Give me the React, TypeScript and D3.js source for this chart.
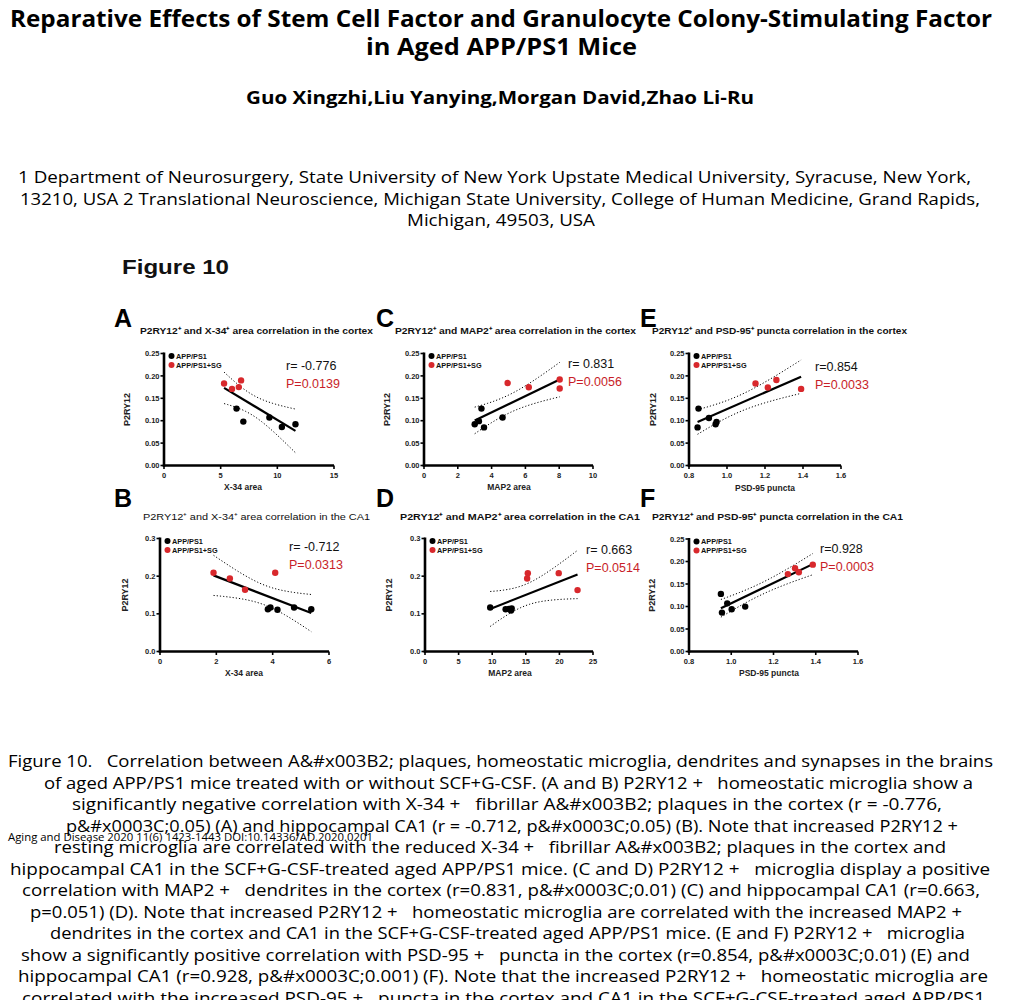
import React from 'react';
import * as d3 from 'd3';

// ---------- text content ----------
const titleLines = [
  'Reparative Effects of Stem Cell Factor and Granulocyte Colony-Stimulating Factor',
  'in Aged APP/PS1 Mice',
];
const authorLine = 'Guo Xingzhi,Liu Yanying,Morgan David,Zhao Li-Ru';
const affiliationLines = [
  '1 Department of Neurosurgery, State University of New York Upstate Medical University, Syracuse, New York,',
  '13210, USA 2 Translational Neuroscience, Michigan State University, College of Human Medicine, Grand Rapids,',
  'Michigan, 49503, USA',
];
const figureLabel = 'Figure 10';
const captionLines = [
  'Figure 10.   Correlation between A&#x003B2; plaques, homeostatic microglia, dendrites and synapses in the brains',
  'of aged APP/PS1 mice treated with or without SCF+G-CSF. (A and B) P2RY12 +   homeostatic microglia show a',
  'significantly negative correlation with X-34 +   fibrillar A&#x003B2; plaques in the cortex (r = -0.776,',
  'p&#x0003C;0.05) (A) and hippocampal CA1 (r = -0.712, p&#x0003C;0.05) (B). Note that increased P2RY12 +',
  'resting microglia are correlated with the reduced X-34 +   fibrillar A&#x003B2; plaques in the cortex and',
  'hippocampal CA1 in the SCF+G-CSF-treated aged APP/PS1 mice. (C and D) P2RY12 +   microglia display a positive',
  'correlation with MAP2 +   dendrites in the cortex (r=0.831, p&#x0003C;0.01) (C) and hippocampal CA1 (r=0.663,',
  'p=0.051) (D). Note that increased P2RY12 +   homeostatic microglia are correlated with the increased MAP2 +',
  'dendrites in the cortex and CA1 in the SCF+G-CSF-treated aged APP/PS1 mice. (E and F) P2RY12 +   microglia',
  'show a significantly positive correlation with PSD-95 +   puncta in the cortex (r=0.854, p&#x0003C;0.01) (E) and',
  'hippocampal CA1 (r=0.928, p&#x0003C;0.001) (F). Note that the increased P2RY12 +   homeostatic microglia are',
  'correlated with the increased PSD-95 +   puncta in the cortex and CA1 in the SCF+G-CSF-treated aged APP/PS1',
];
const footerLine = 'Aging and Disease 2020 11(6) 1423-1443 DOI:10.14336/AD.2020.0201';

const panelLetters = ['A', 'C', 'E', 'B', 'D', 'F'];
const panelTitles = [
  'P2RY12\u207A and X-34\u207A area correlation in the cortex',
  'P2RY12\u207A and MAP2\u207A area correlation in the cortex',
  'P2RY12\u207A and PSD-95\u207A puncta correlation in the cortex',
  'P2RY12\u207A and X-34\u207A area correlation in the CA1',
  'P2RY12\u207A and MAP2\u207A area correlation in the CA1',
  'P2RY12\u207A and PSD-95\u207A puncta correlation in the CA1',
];
const xAxisTitles = ['X-34 area', 'MAP2 area', 'PSD-95 puncta', 'X-34 area', 'MAP2 area', 'PSD-95 puncta'];
const yAxisTitle = 'P2RY12';
const legendLabels = ['APP/PS1', 'APP/PS1+SG'];
const rLabels = ['r= -0.776', 'r= 0.831', 'r=0.854', 'r= -0.712', 'r= 0.663', 'r=0.928'];
const pLabels = ['P=0.0139', 'P=0.0056', 'P=0.0033', 'P=0.0313', 'P=0.0514', 'P=0.0003'];

// ---------- data: [x, P2RY12] ----------
const cortexX34Ctrl = [[6.4, 0.127], [7.0, 0.098], [9.3, 0.107], [10.4, 0.086], [11.6, 0.092]];
const cortexX34SG = [[5.3, 0.183], [6.0, 0.171], [6.6, 0.175], [6.8, 0.19]];
const cortexMap2Ctrl = [[3.0, 0.092], [3.25, 0.099], [3.4, 0.127], [3.55, 0.085], [4.65, 0.107]];
const cortexMap2SG = [[4.95, 0.184], [6.2, 0.1745], [8.03, 0.192], [8.03, 0.172]];
const cortexPsdCtrl = [[0.85, 0.127], [0.845, 0.085], [0.905, 0.106], [0.94, 0.092], [0.945, 0.097]];
const cortexPsdSG = [[1.15, 0.183], [1.215, 0.174], [1.26, 0.191], [1.39, 0.171]];
const ca1X34Ctrl = [[3.83, 0.112], [3.92, 0.117], [4.17, 0.111], [4.76, 0.117], [5.37, 0.112]];
const ca1X34SG = [[1.9, 0.209], [2.48, 0.194], [3.02, 0.164], [4.09, 0.209]];
const ca1Map2Ctrl = [[9.7, 0.117], [12.0, 0.112], [12.5, 0.113], [12.8, 0.109], [12.9, 0.114]];
const ca1Map2SG = [[15.2, 0.194], [15.3, 0.208], [19.9, 0.208], [22.7, 0.163]];
const ca1PsdCtrl = [[0.951, 0.128], [0.956, 0.0865], [0.981, 0.107], [1.002, 0.094], [1.066, 0.0998]];
const ca1PsdSG = [[1.268, 0.172], [1.302, 0.185], [1.32, 0.176], [1.386, 0.193]];

// ---------- axis ticks ----------
const yTicksCortex = [0, 0.05, 0.1, 0.15, 0.2, 0.25];
const yTicksCA1a = [0, 0.1, 0.2, 0.3];
const xTicksX34Cortex = [0, 5, 10, 15];
const xTicksMap2Cortex = [0, 2, 4, 6, 8, 10];
const xTicksPsd = [0.8, 1.0, 1.2, 1.4, 1.6];
const xTicksX34CA1 = [0, 2, 4, 6];
const xTicksMap2CA1 = [0, 5, 10, 15, 20, 25];

const T_CRIT_7DF = 2.3646; // 95% two-sided t critical value, n-2 = 7

// ---------- layout (positions only) ----------
const panels = [
  { ctrl: cortexX34Ctrl, sg: cortexX34SG, xd: [0, 15], yd: [0, 0.25], xt: xTicksX34Cortex, yt: yTicksCortex, xf: 'd', yf: '.2f',
    L: 164, R: 334, T: 353.5, B: 465.5, letter: [114, 327], title: [140, 373, 334], bold: true, yTitleX: 130, xTitleX: 243, xTitleY: 490, stat: [286, 370] },
  { ctrl: cortexMap2Ctrl, sg: cortexMap2SG, xd: [0, 10], yd: [0, 0.25], xt: xTicksMap2Cortex, yt: yTicksCortex, xf: 'd', yf: '.2f',
    L: 424, R: 593, T: 353.5, B: 465.5, letter: [376, 327], title: [395, 636, 334], bold: true, yTitleX: 390, xTitleX: 509, xTitleY: 490, stat: [568, 368] },
  { ctrl: cortexPsdCtrl, sg: cortexPsdSG, xd: [0.8, 1.6], yd: [0, 0.25], xt: xTicksPsd, yt: yTicksCortex, xf: '.1f', yf: '.2f',
    L: 689, R: 841, T: 353.5, B: 465.5, letter: [640, 327], title: [652, 907, 334], bold: true, yTitleX: 656, xTitleX: 765, xTitleY: 491, stat: [815, 371] },
  { ctrl: ca1X34Ctrl, sg: ca1X34SG, xd: [0, 6], yd: [0, 0.3], xt: xTicksX34CA1, yt: yTicksCA1a, xf: 'd', yf: '.1f',
    L: 160, R: 329, T: 538.5, B: 651.5, letter: [114, 507], title: [143, 370, 520], bold: false, yTitleX: 128, xTitleX: 244, xTitleY: 676, stat: [289, 551] },
  { ctrl: ca1Map2Ctrl, sg: ca1Map2SG, xd: [0, 25], yd: [0, 0.3], xt: xTicksMap2CA1, yt: yTicksCA1a, xf: 'd', yf: '.1f',
    L: 425, R: 593, T: 538.5, B: 651.5, letter: [376, 507], title: [400, 640, 520], bold: true, yTitleX: 392, xTitleX: 510, xTitleY: 676, stat: [586, 554] },
  { ctrl: ca1PsdCtrl, sg: ca1PsdSG, xd: [0.8, 1.6], yd: [0, 0.25], xt: xTicksPsd, yt: yTicksCortex, xf: '.1f', yf: '.2f',
    L: 689, R: 858, T: 539, B: 651.5, letter: [640, 507], title: [652, 903, 520], bold: true, yTitleX: 655, xTitleX: 769, xTitleY: 676, stat: [820, 553] },
];

const captionLayout = [
  [8, 993], [44, 973], [72, 942], [66, 958], [54, 946], [10, 990],
  [22, 980], [30, 962], [50, 965], [21, 970], [18, 988], [22, 985],
];

const ARIAL = '"Liberation Sans", Arial, sans-serif';
const SEGOE = '"Open Sans", "Noto Sans", sans-serif';
const RED_DOT = '#d8282c';
const RED_TXT = '#c81e28';
const PRE = { whiteSpace: 'pre' as const };

function regress(pts: number[][]) {
  const n = pts.length;
  const mx = d3.mean(pts, (p) => p[0])!;
  const my = d3.mean(pts, (p) => p[1])!;
  const sxx = d3.sum(pts, (p) => (p[0] - mx) ** 2);
  const sxy = d3.sum(pts, (p) => (p[0] - mx) * (p[1] - my));
  const syy = d3.sum(pts, (p) => (p[1] - my) ** 2);
  const slope = sxy / sxx;
  const icpt = my - slope * mx;
  const s = Math.sqrt((syy - (sxy * sxy) / sxx) / (n - 2));
  const half = (x: number) => T_CRIT_7DF * s * Math.sqrt(1 / n + (x - mx) ** 2 / sxx);
  return { slope, icpt, half, x0: d3.min(pts, (p) => p[0])!, x1: d3.max(pts, (p) => p[0])! };
}

function Panel({ p, i }: { p: any; i: number }) {
  const x = d3.scaleLinear().domain(p.xd).range([p.L, p.R]);
  const y = d3.scaleLinear().domain(p.yd).range([p.B, p.T]);
  const all = [...p.ctrl, ...p.sg];
  const fit = regress(all);
  const xs = d3.range(0, 41).map((k) => fit.x0 + ((fit.x1 - fit.x0) * k) / 40);
  const line = d3.line<number>().x((v) => x(v));
  const upper = line.y((v) => y(fit.icpt + fit.slope * v + fit.half(v)))(xs) || '';
  const lower = line.y((v) => y(fit.icpt + fit.slope * v - fit.half(v)))(xs) || '';
  const xfmt = d3.format(p.xf);
  const yfmt = d3.format(p.yf);
  const midY = (p.T + p.B) / 2;
  return (
    <g>
      <text x={p.letter[0]} y={p.letter[1]} fontFamily={ARIAL} fontWeight="bold" fontSize={25} fill="#000">
        {panelLetters[i]}
      </text>
      <text x={p.title[0]} y={p.title[2]} textLength={p.title[1] - p.title[0]} lengthAdjust="spacingAndGlyphs"
        fontFamily={ARIAL} fontWeight={p.bold ? 'bold' : 'normal'} fontSize={9.5} fill="#111">
        {panelTitles[i]}
      </text>
      {p.yt.map((t: number) => (
        <g key={'y' + t}>
          <line x1={p.L - 3.5} x2={p.L} y1={y(t)} y2={y(t)} stroke="#000" strokeWidth={1.6} />
          <text x={p.L - 4.5} y={y(t) + 2.6} textAnchor="end" fontFamily={ARIAL} fontWeight="bold" fontSize={7.5} fill="#222">
            {yfmt(t)}
          </text>
        </g>
      ))}
      {p.xt.map((t: number) => (
        <g key={'x' + t}>
          <line x1={x(t)} x2={x(t)} y1={p.B} y2={p.B + 3.5} stroke="#000" strokeWidth={1.6} />
          <text x={x(t)} y={p.B + 12} textAnchor="middle" fontFamily={ARIAL} fontWeight="bold" fontSize={7.5} fill="#222">
            {xfmt(t)}
          </text>
        </g>
      ))}
      <line x1={p.L} x2={p.L} y1={p.T - 1} y2={p.B + 1.2} stroke="#000" strokeWidth={2.6} />
      <line x1={p.L - 1.2} x2={p.R} y1={p.B} y2={p.B} stroke="#000" strokeWidth={2.6} />
      <text transform={`translate(${p.yTitleX},${midY}) rotate(-90)`} textAnchor="middle" fontFamily={ARIAL}
        fontWeight="bold" fontSize={9} fill="#222">
        {yAxisTitle}
      </text>
      <text x={p.xTitleX} y={p.xTitleY} textAnchor="middle" fontFamily={ARIAL} fontWeight="bold" fontSize={8.5} fill="#222">
        {xAxisTitles[i]}
      </text>
      <circle cx={p.L + 7.5} cy={p.T + 2.5} r={3} fill="#000" />
      <text x={p.L + 12} y={p.T + 5} fontFamily={ARIAL} fontWeight="bold" fontSize={7.3} fill="#111">{legendLabels[0]}</text>
      <circle cx={p.L + 7.5} cy={p.T + 11.5} r={3} fill={RED_DOT} />
      <text x={p.L + 12} y={p.T + 14} fontFamily={ARIAL} fontWeight="bold" fontSize={7.3} fill="#111">{legendLabels[1]}</text>
      <path d={upper} fill="none" stroke="#000" strokeWidth={1} strokeDasharray="1.2,2" />
      <path d={lower} fill="none" stroke="#000" strokeWidth={1} strokeDasharray="1.2,2" />
      <line x1={x(fit.x0)} x2={x(fit.x1)} y1={y(fit.icpt + fit.slope * fit.x0)} y2={y(fit.icpt + fit.slope * fit.x1)}
        stroke="#000" strokeWidth={2.2} />
      {p.ctrl.map((d: number[], k: number) => (
        <circle key={'c' + k} cx={x(d[0])} cy={y(d[1])} r={3.2} fill="#000" />
      ))}
      {p.sg.map((d: number[], k: number) => (
        <circle key={'s' + k} cx={x(d[0])} cy={y(d[1])} r={3.2} fill={RED_DOT} />
      ))}
      <text x={p.stat[0]} y={p.stat[1]} fontFamily={ARIAL} fontSize={12.5} fill="#111">{rLabels[i]}</text>
      <text x={p.stat[0]} y={p.stat[1] + 18} fontFamily={ARIAL} fontSize={12.5} fill={RED_TXT}>{pLabels[i]}</text>
    </g>
  );
}

export default function App() {
  return (
    <svg width={1024} height={1000} style={{ position: 'absolute', left: 0, top: 0, background: '#fff' }}>
      <rect width={1024} height={1000} fill="#fff" />
      <text x={10} y={27} textLength={982} lengthAdjust="spacingAndGlyphs" fontFamily={SEGOE} fontWeight="bold" fontSize={23} fill="#000">
        {titleLines[0]}
      </text>
      <text x={366} y={55} textLength={271} lengthAdjust="spacingAndGlyphs" fontFamily={SEGOE} fontWeight="bold" fontSize={23} fill="#000">
        {titleLines[1]}
      </text>
      <text x={246} y={104} textLength={508} lengthAdjust="spacingAndGlyphs" fontFamily={SEGOE} fontWeight="bold" fontSize={17.5} fill="#000">
        {authorLine}
      </text>
      {affiliationLines.map((t, k) => {
        const lay = [[18, 971], [20, 980], [407, 595]][k];
        return (
          <text key={k} x={lay[0]} y={183 + k * 21.5} textLength={lay[1] - lay[0]} lengthAdjust="spacingAndGlyphs"
            fontFamily={SEGOE} fontSize={17} fill="#000">
            {t}
          </text>
        );
      })}
      <text x={122} y={274} textLength={107} lengthAdjust="spacingAndGlyphs" fontFamily={ARIAL} fontWeight="bold" fontSize={20} fill="#111">
        {figureLabel}
      </text>
      {panels.map((p, i) => (
        <Panel key={i} p={p} i={i} />
      ))}
      {captionLines.map((t, k) => (
        <text key={k} x={captionLayout[k][0]} y={767 + k * 21.5} textLength={captionLayout[k][1] - captionLayout[k][0]}
          lengthAdjust="spacingAndGlyphs" fontFamily={SEGOE} fontSize={17} fill="#000" style={PRE}>
          {t}
        </text>
      ))}
      <text x={8} y={841} textLength={365} lengthAdjust="spacingAndGlyphs" fontFamily={SEGOE} fontSize={11} fill="#000">
        {footerLine}
      </text>
    </svg>
  );
}
